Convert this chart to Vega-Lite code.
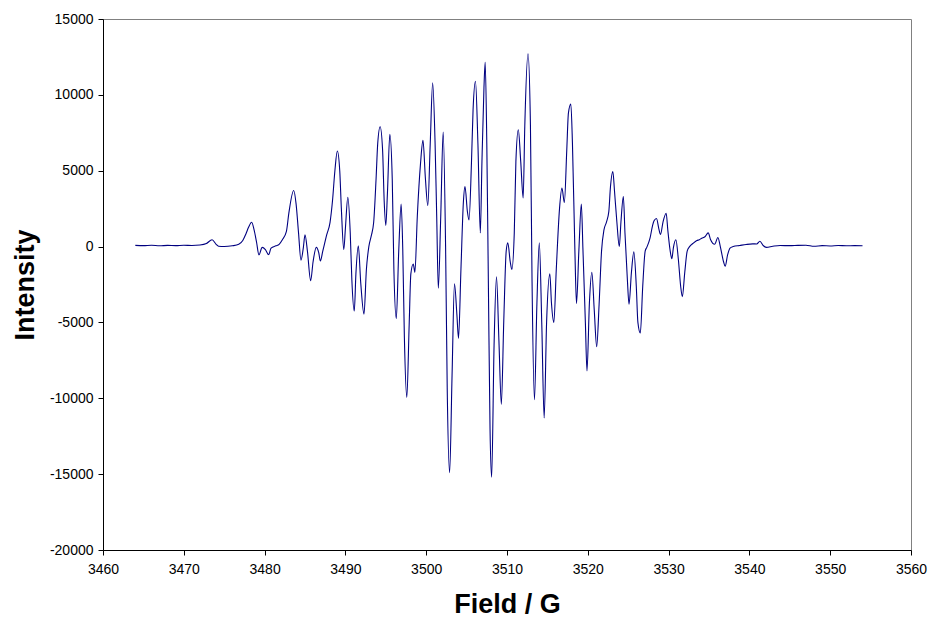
{
  "$schema": "https://vega.github.io/schema/vega-lite/v6.json",
  "autosize": "none",
  "width": 808,
  "height": 531,
  "padding": {"left": 103, "top": 19, "right": 18, "bottom": 67},
  "background": "white",
  "config": {
    "view": {"stroke": "#808080", "strokeWidth": 1},
    "axis": {"grid": false, "domainColor": "#000000", "tickColor": "#000000", "tickSize": 5, "labelFont": "Liberation Sans", "labelFontSize": 14, "labelColor": "#000000", "titleFont": "Liberation Sans", "titleFontSize": 27, "titleFontWeight": "bold", "titleColor": "#000000"}
  },
  "data": {"values": [
    {"G":3464.0,"I":80},{"G":3465.0,"I":60},{"G":3466.0,"I":90},{"G":3467.0,"I":50},{"G":3468.0,"I":80},{"G":3469.0,"I":60},{"G":3470.0,"I":90},{"G":3471.0,"I":70},{"G":3472.0,"I":100},{"G":3472.8,"I":200},{"G":3473.5,"I":450},{"G":3474.0,"I":150},{"G":3474.3,"I":20},{"G":3475.0,"I":0},{"G":3476.0,"I":50},{"G":3476.8,"I":150},{"G":3477.3,"I":400},{"G":3477.7,"I":850},{"G":3478.0,"I":1250},{"G":3478.4,"I":1600},{"G":3478.7,"I":1100},{"G":3479.0,"I":300},{"G":3479.3,"I":-550},{"G":3479.7,"I":-50},{"G":3480.1,"I":-200},{"G":3480.5,"I":-530},{"G":3480.8,"I":-100},{"G":3481.4,"I":50},{"G":3481.8,"I":150},{"G":3482.2,"I":450},{"G":3482.7,"I":1000},{"G":3483.0,"I":2200},{"G":3483.6,"I":3700},{"G":3483.9,"I":2800},{"G":3484.2,"I":900},{"G":3484.5,"I":-900},{"G":3484.8,"I":-50},{"G":3485.0,"I":780},{"G":3485.3,"I":-300},{"G":3485.7,"I":-2250},{"G":3486.0,"I":-1000},{"G":3486.4,"I":-50},{"G":3486.7,"I":-400},{"G":3486.9,"I":-950},{"G":3487.2,"I":-300},{"G":3487.7,"I":800},{"G":3488.1,"I":1600},{"G":3488.4,"I":3000},{"G":3488.7,"I":5000},{"G":3489.0,"I":6300},{"G":3489.3,"I":5000},{"G":3489.5,"I":2500},{"G":3489.8,"I":-200},{"G":3490.0,"I":1200},{"G":3490.3,"I":3250},{"G":3490.6,"I":900},{"G":3490.8,"I":-2200},{"G":3491.1,"I":-4250},{"G":3491.3,"I":-1800},{"G":3491.6,"I":50},{"G":3491.9,"I":-2400},{"G":3492.3,"I":-4450},{"G":3492.6,"I":-1500},{"G":3492.9,"I":0},{"G":3493.2,"I":700},{"G":3493.5,"I":1600},{"G":3493.8,"I":4500},{"G":3494.0,"I":6800},{"G":3494.3,"I":7900},{"G":3494.6,"I":6400},{"G":3494.8,"I":3000},{"G":3495.0,"I":1400},{"G":3495.2,"I":3500},{"G":3495.5,"I":7400},{"G":3495.8,"I":4400},{"G":3496.0,"I":-1500},{"G":3496.3,"I":-4750},{"G":3496.6,"I":-300},{"G":3496.9,"I":2800},{"G":3497.1,"I":-200},{"G":3497.3,"I":-6000},{"G":3497.6,"I":-9950},{"G":3497.9,"I":-5000},{"G":3498.1,"I":-1800},{"G":3498.4,"I":-1150},{"G":3498.6,"I":-1700},{"G":3498.9,"I":2000},{"G":3499.3,"I":5500},{"G":3499.6,"I":7000},{"G":3499.9,"I":4500},{"G":3500.2,"I":2700},{"G":3500.5,"I":6800},{"G":3500.8,"I":10800},{"G":3501.1,"I":6800},{"G":3501.3,"I":2000},{"G":3501.5,"I":-2750},{"G":3501.8,"I":2000},{"G":3502.1,"I":7550},{"G":3502.4,"I":0},{"G":3502.6,"I":-9300},{"G":3502.9,"I":-14900},{"G":3503.2,"I":-8500},{"G":3503.5,"I":-2450},{"G":3503.8,"I":-4500},{"G":3504.0,"I":-6050},{"G":3504.3,"I":-1500},{"G":3504.6,"I":2900},{"G":3504.8,"I":3950},{"G":3505.1,"I":2300},{"G":3505.3,"I":1750},{"G":3505.6,"I":5500},{"G":3505.8,"I":9000},{"G":3506.1,"I":10900},{"G":3506.4,"I":6800},{"G":3506.7,"I":900},{"G":3506.9,"I":5600},{"G":3507.15,"I":10500},{"G":3507.3,"I":12150},{"G":3507.5,"I":6800},{"G":3507.7,"I":-2700},{"G":3507.9,"I":-12000},{"G":3508.1,"I":-15200},{"G":3508.4,"I":-6500},{"G":3508.7,"I":-2000},{"G":3509.0,"I":-6200},{"G":3509.3,"I":-10400},{"G":3509.6,"I":-4900},{"G":3509.9,"I":-300},{"G":3510.1,"I":250},{"G":3510.4,"I":-1000},{"G":3510.6,"I":-1500},{"G":3510.9,"I":900},{"G":3511.1,"I":5600},{"G":3511.4,"I":7700},{"G":3511.7,"I":5600},{"G":3512.0,"I":3200},{"G":3512.2,"I":7900},{"G":3512.6,"I":12700},{"G":3512.9,"I":8000},{"G":3513.1,"I":-2300},{"G":3513.4,"I":-10100},{"G":3513.7,"I":-3800},{"G":3514.0,"I":250},{"G":3514.3,"I":-5000},{"G":3514.6,"I":-11300},{"G":3514.9,"I":-5000},{"G":3515.3,"I":-1800},{"G":3515.5,"I":-3700},{"G":3515.8,"I":-5000},{"G":3516.1,"I":-1500},{"G":3516.5,"I":2500},{"G":3516.8,"I":3850},{"G":3517.1,"I":2900},{"G":3517.4,"I":6400},{"G":3517.6,"I":8800},{"G":3517.9,"I":9400},{"G":3518.1,"I":6800},{"G":3518.4,"I":-200},{"G":3518.6,"I":-3750},{"G":3518.9,"I":-200},{"G":3519.2,"I":2800},{"G":3519.4,"I":-200},{"G":3519.7,"I":-5000},{"G":3519.9,"I":-8200},{"G":3520.2,"I":-3700},{"G":3520.5,"I":-1700},{"G":3520.8,"I":-4200},{"G":3521.1,"I":-6600},{"G":3521.4,"I":-3800},{"G":3521.7,"I":-300},{"G":3522.0,"I":1100},{"G":3522.3,"I":1600},{"G":3522.6,"I":2300},{"G":3522.8,"I":3900},{"G":3523.1,"I":4950},{"G":3523.3,"I":3700},{"G":3523.6,"I":1600},{"G":3523.9,"I":0},{"G":3524.1,"I":1600},{"G":3524.4,"I":3300},{"G":3524.6,"I":900},{"G":3524.9,"I":-2200},{"G":3525.1,"I":-3800},{"G":3525.4,"I":-1700},{"G":3525.7,"I":-350},{"G":3526.0,"I":-2600},{"G":3526.2,"I":-5000},{"G":3526.5,"I":-5700},{"G":3526.8,"I":-2600},{"G":3527.1,"I":-300},{"G":3527.3,"I":-50},{"G":3527.7,"I":550},{"G":3528.0,"I":1350},{"G":3528.2,"I":1700},{"G":3528.5,"I":1850},{"G":3528.8,"I":1150},{"G":3529.0,"I":800},{"G":3529.3,"I":1600},{"G":3529.7,"I":2200},{"G":3529.9,"I":1100},{"G":3530.2,"I":-300},{"G":3530.4,"I":-800},{"G":3530.6,"I":-50},{"G":3530.9,"I":450},{"G":3531.2,"I":-800},{"G":3531.5,"I":-2650},{"G":3531.7,"I":-3300},{"G":3532.0,"I":-1700},{"G":3532.3,"I":-300},{"G":3532.6,"I":0},{"G":3533.0,"I":200},{"G":3533.5,"I":400},{"G":3533.8,"I":450},{"G":3534.1,"I":550},{"G":3534.5,"I":650},{"G":3534.9,"I":900},{"G":3535.2,"I":450},{"G":3535.7,"I":150},{"G":3536.1,"I":600},{"G":3536.4,"I":0},{"G":3536.8,"I":-1000},{"G":3537.0,"I":-1300},{"G":3537.3,"I":-550},{"G":3537.6,"I":-100},{"G":3538.0,"I":0},{"G":3538.8,"I":70},{"G":3539.6,"I":140},{"G":3540.4,"I":180},{"G":3540.9,"I":170},{"G":3541.3,"I":350},{"G":3541.7,"I":70},{"G":3542.1,"I":-50},{"G":3542.9,"I":20},{"G":3543.8,"I":70},{"G":3545.0,"I":60},{"G":3546.0,"I":80},{"G":3547.0,"I":90},{"G":3548.0,"I":20},{"G":3549.0,"I":60},{"G":3550.0,"I":40},{"G":3551.0,"I":70},{"G":3552.0,"I":50},{"G":3553.0,"I":60},{"G":3554.0,"I":50}
  ]},
  "mark": {"type": "line", "color": "#000080", "strokeWidth": 1.1, "interpolate": "monotone"},
  "encoding": {
    "x": {"field": "G", "type": "quantitative", "scale": {"domain": [3460, 3560], "nice": false, "zero": false},
      "axis": {"title": "Field / G", "values": [3460,3470,3480,3490,3500,3510,3520,3530,3540,3550,3560], "labelExpr": "'' + datum.value", "labelPadding": 7, "labelFlush": false, "labelOverlap": false, "titleX": 404, "titleY": 62, "titleBaseline": "alphabetic"}},
    "y": {"field": "I", "type": "quantitative", "scale": {"domain": [-20000, 15000], "nice": false, "zero": false},
      "axis": {"title": "Intensity", "values": [-20000,-15000,-10000,-5000,0,5000,10000,15000], "labelExpr": "'' + datum.value", "labelPadding": 5, "labelFlush": false, "labelOverlap": false, "titleX": -70, "titleY": 265.5, "titleAngle": -90, "titleAlign": "center", "titleBaseline": "alphabetic"}}
  }
}
